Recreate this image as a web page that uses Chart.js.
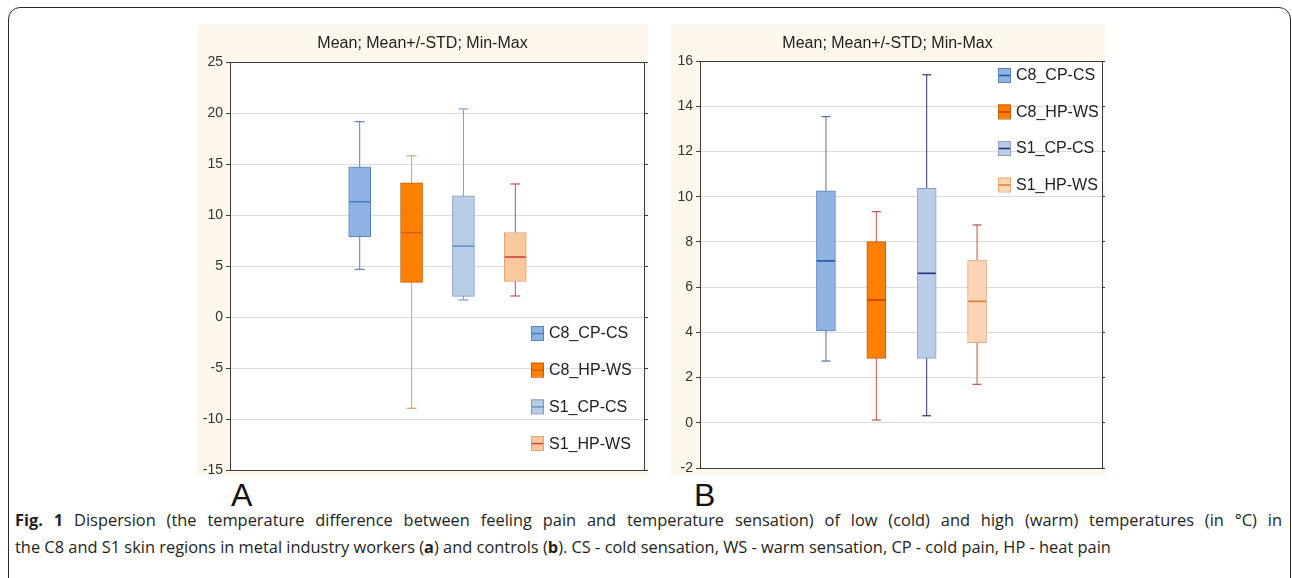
<!DOCTYPE html>
<html>
<head>
<meta charset="utf-8">
<script src="https://cdn.jsdelivr.net/npm/chart.js@4.4.0/dist/chart.umd.min.js"></script>
<style>
  body { margin: 0; background: #fff; width: 1292px; height: 578px; overflow: hidden; position: relative; }
  .frame { position: absolute; left: 8px; top: 7px; width: 1283px; height: 590px; box-sizing: border-box;
           border: 1.5px solid #2a2a2a; border-radius: 12px; }
  .panel { position: absolute; background: #fdf8eb; }
  .panel canvas { display: block; }
  .tag { position: absolute; font-family: Arial, "Liberation Sans", sans-serif; font-size: 32px; color: #111; line-height: 1; }
  .cap { position: absolute; left: 15px; font-family: "Open Sans", sans-serif; font-size: 16.4px; color: #231f20;
         white-space: nowrap; line-height: 20px; }
  .cap.just { width: 1267px; text-align: justify; text-align-last: justify; white-space: normal; }
</style>
</head>
<body>
<div class="frame"></div>
<div class="panel" style="left:197px;top:25px;width:451px;height:452px"><canvas id="chartA" width="451" height="452"></canvas></div>
<div class="panel" style="left:670px;top:25px;width:435px;height:450px"><canvas id="chartB" width="435" height="450"></canvas></div>
<div class="tag" style="left:231px;top:479px">A</div>
<div class="tag" style="left:694px;top:479px">B</div>
<div class="cap just" style="top:510px"><b>Fig. 1</b> Dispersion (the temperature difference between feeling pain and temperature sensation) of low (cold) and high (warm) temperatures (in °C) in</div>
<div class="cap" style="top:537px">the C8 and S1 skin regions in metal industry workers (<b>a</b>) and controls (<b>b</b>). CS - cold sensation, WS - warm sensation, CP - cold pain, HP - heat pain</div>

<script>
// series (variables) and their x slots
const seriesNames = ["C8_CP-CS", "C8_HP-WS", "S1_CP-CS", "S1_HP-WS"];
const slots = [1, 2, 3, 4];

// panel A - metal industry workers
const meanA = [11.3, 8.28, 6.95, 5.88];
const stdA  = [3.43, 4.88, 4.93, 2.40];
const minA  = [4.67, -8.95, 1.67, 2.06];
const maxA  = [19.15, 15.8, 20.4, 13.04];
const ticksA = [-15, -10, -5, 0, 5, 10, 15, 20, 25];

// panel B - controls
const meanB = [7.16, 5.43, 6.61, 5.37];
const stdB  = [3.10, 2.58, 3.76, 1.83];
const minB  = [2.73, 0.12, 0.31, 1.70];
const maxB  = [13.54, 9.34, 15.39, 8.75];
const ticksB = [-2, 0, 2, 4, 6, 8, 10, 12, 14, 16];

// colours: fill, box border, whisker, mean line
const stylesA = [
  { fill: "#8db4e2", border: "#5d83b8", whisker: "#5f7ea6", mean: "#4a7cc0" },
  { fill: "#ff8000", border: "#c45a00", whisker: "#d8a268", mean: "#cf6414" },
  { fill: "#b9cde5", border: "#7f9bc2", whisker: "#7d9fd2", mean: "#5f8fd4" },
  { fill: "#fac89c", border: "#dda272", whisker: "#c4504c", mean: "#d0403c" }
];
const stylesB = [
  { fill: "#8db4e2", border: "#5b84bd", whisker: "#4b6fa6", mean: "#2452a6" },
  { fill: "#ff8000", border: "#c65c00", whisker: "#c4504c", mean: "#d4380c" },
  { fill: "#b9cde5", border: "#8aa2c4", whisker: "#2e3470", mean: "#22307e" },
  { fill: "#fcd5b5", border: "#e2ab82", whisker: "#c4504c", mean: "#e27a34" }
];

const fontFamily = 'Arial, "Liberation Sans", sans-serif';

// white plot area, frame around it, legend drawn inside it
const boxLegend = {
  id: "boxLegend",
  beforeDraw(chart) {
    const a = chart.chartArea;
    chart.ctx.save();
    chart.ctx.fillStyle = "#ffffff";
    chart.ctx.fillRect(a.left, a.top, a.right - a.left, a.bottom - a.top);
    chart.ctx.restore();
  },
  afterDraw(chart, args, opts) {
    const ctx = chart.ctx;
    const a = chart.chartArea;
    ctx.save();
    ctx.strokeStyle = "#3a3a3a";
    ctx.lineWidth = 1;
    ctx.strokeRect(Math.round(a.left) + 0.5, Math.round(a.top) + 0.5,
                   Math.round(a.right - a.left) - 1, Math.round(a.bottom - a.top));
    ctx.font = "16px " + fontFamily;
    ctx.textBaseline = "middle";
    opts.names.forEach((name, i) => {
      const st = opts.styles[i];
      const x = a.left + opts.x;
      const y = a.top + opts.y + i * opts.step;
      ctx.fillStyle = st.fill;
      ctx.fillRect(x, y - 7, 12, 14);
      ctx.strokeStyle = st.border;
      ctx.strokeRect(x + 0.5, y - 6.5, 12, 14);
      ctx.strokeStyle = st.mean;
      ctx.lineWidth = 1.5;
      ctx.beginPath();
      ctx.moveTo(x + 1, y + 0.5);
      ctx.lineTo(x + 12, y + 0.5);
      ctx.stroke();
      ctx.lineWidth = 1;
      ctx.fillStyle = "#222";
      ctx.fillText(name, x + 18, y + 1);
    });
    ctx.restore();
  }
};

function buildDatasets(mean, std, mins, maxs, styles, barW, capR) {
  const sets = [];
  seriesNames.forEach((name, i) => {
    const x = slots[i];
    const st = styles[i];
    sets.push({
      type: "line", label: name + " min-max", order: 3,
      data: [{ x: x, y: mins[i] }, { x: x, y: maxs[i] }],
      borderColor: st.whisker, borderWidth: 1,
      pointStyle: "line", pointRadius: capR, pointBorderColor: st.whisker, pointBorderWidth: 1.2
    });
    sets.push({
      type: "bar", label: name, order: 2, grouped: false,
      data: [{ x: x, y: [mean[i] - std[i], mean[i] + std[i]] }],
      backgroundColor: st.fill, borderColor: st.border, borderWidth: 1, borderSkipped: false,
      barThickness: barW
    });
    sets.push({
      type: "line", label: name + " mean", order: 1, showLine: false,
      data: [{ x: x, y: mean[i] }],
      pointStyle: "line", pointRadius: barW / 2 - 0.5, pointBorderColor: st.mean, pointBorderWidth: 1.6
    });
  });
  return sets;
}

function makeChart(id, cfg) {
  new Chart(document.getElementById(id), {
    type: "bar",
    data: { datasets: buildDatasets(cfg.mean, cfg.std, cfg.mins, cfg.maxs, cfg.styles, cfg.barW, cfg.capR) },
    options: {
      responsive: false,
      animation: false,
      layout: { autoPadding: false, padding: { left: 0, right: 0, top: 0, bottom: 7 } },
      plugins: {
        legend: { display: false },
        tooltip: { enabled: false },
        title: {
          display: true,
          text: "Mean; Mean+/-STD; Min-Max",
          color: "#222",
          font: { family: fontFamily, size: 16, weight: "normal" },
          padding: { top: cfg.titleTop, bottom: cfg.titleBottom }
        },
        boxLegend: { names: seriesNames, styles: cfg.styles, x: cfg.legX, y: cfg.legY, step: cfg.legStep }
      },
      scales: {
        x: { type: "linear", min: -1.5, max: 6.5, offset: false, display: false },
        y: {
          min: cfg.ticks[0], max: cfg.ticks[cfg.ticks.length - 1],
          afterBuildTicks: s => { s.ticks = cfg.ticks.map(v => ({ value: v })); },
          afterFit: s => { s.width = cfg.axisW; s.paddingBottom = 0; s.paddingTop = 0; },
          ticks: { color: "#333", padding: 3, font: { family: fontFamily, size: 14 } },
          grid: { color: "#dcdcdc", tickColor: "#444", tickLength: 4 },
          border: { color: "#3a3a3a" }
        },
        y2: {
          position: "right",
          min: cfg.ticks[0], max: cfg.ticks[cfg.ticks.length - 1],
          afterBuildTicks: s => { s.ticks = cfg.ticks.map(v => ({ value: v })); },
          afterFit: s => { s.width = cfg.rightW; s.paddingBottom = 0; s.paddingTop = 0; },
          ticks: { display: false },
          grid: { drawOnChartArea: false, tickColor: "#444", tickLength: cfg.rightW },
          border: { display: false }
        }
      }
    },
    plugins: [boxLegend]
  });
}

makeChart("chartA", {
  mean: meanA, std: stdA, mins: minA, maxs: maxA, styles: stylesA, ticks: ticksA,
  barW: 22, capR: 5, axisW: 33, rightW: 3, titleTop: 9, titleBottom: 8.8,
  legX: 301, legY: 271, legStep: 36.7
});

makeChart("chartB", {
  mean: meanB, std: stdB, mins: minB, maxs: maxB, styles: stylesB, ticks: ticksB,
  barW: 19, capR: 4.5, axisW: 30, rightW: 2, titleTop: 8.5, titleBottom: 8.3,
  legX: 298, legY: 14, legStep: 36.5
});
</script>
</body>
</html>
